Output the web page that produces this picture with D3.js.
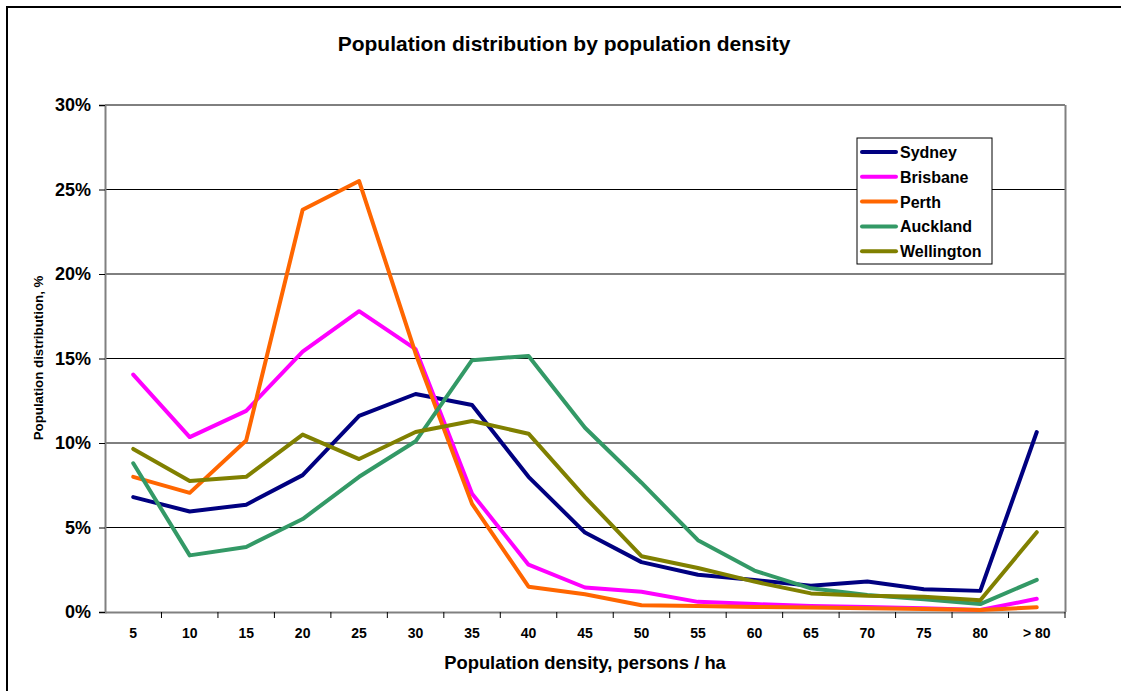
<!DOCTYPE html>
<html>
<head>
<meta charset="utf-8">
<script src="https://cdn.jsdelivr.net/npm/d3@7"></script>
<style>
  body { margin: 0; background: #fff; }
  text { font-family: "Liberation Sans", Arial, sans-serif; font-weight: bold; fill: #000; }
</style>
</head>
<body>
<div id="chart"></div>
<script>
// categories (population density, persons / ha)
var categories = ["5", "10", "15", "20", "25", "30", "35", "40", "45", "50", "55", "60", "65", "70", "75", "80", "> 80"];
var cities = ["Sydney", "Brisbane", "Perth", "Auckland", "Wellington"];
var cityColors = ["#000080", "#ff00ff", "#ff6600", "#339966", "#808000"];

// population distribution, %
var sydney     = [6.8, 5.95, 6.35, 8.1, 11.6, 12.9, 12.25, 8.0, 4.7, 2.95, 2.2, 1.9, 1.55, 1.8, 1.35, 1.25, 10.65];
var brisbane   = [14.05, 10.35, 11.9, 15.4, 17.8, 15.55, 7.0, 2.8, 1.45, 1.2, 0.6, 0.47, 0.35, 0.3, 0.22, 0.12, 0.78];
var perth      = [8.0, 7.05, 10.15, 23.8, 25.5, 15.3, 6.4, 1.5, 1.05, 0.4, 0.36, 0.3, 0.26, 0.22, 0.18, 0.12, 0.28];
var auckland   = [8.8, 3.35, 3.85, 5.5, 8.0, 10.1, 14.9, 15.15, 10.9, 7.65, 4.25, 2.45, 1.4, 1.0, 0.75, 0.47, 1.9];
var wellington = [9.65, 7.75, 8.0, 10.5, 9.05, 10.65, 11.3, 10.55, 6.8, 3.3, 2.6, 1.8, 1.1, 0.96, 0.9, 0.7, 4.72];

var yTicks = [0, 5, 10, 15, 20, 25, 30];

var seriesValues = [sydney, brisbane, perth, auckland, wellington];

var W = 1121, H = 691;
var margin = {top: 105, right: 56, bottom: 79, left: 105};
var width = W - margin.left - margin.right,
    height = H - margin.top - margin.bottom;

var svg = d3.select("#chart").append("svg")
    .attr("width", W)
    .attr("height", H);

// outer frame
svg.append("rect")
    .attr("x", 7).attr("y", 7)
    .attr("width", W + 20).attr("height", H + 20)
    .attr("fill", "none")
    .attr("stroke", "#000")
    .attr("stroke-width", 2);

svg.append("text")
    .attr("x", 564).attr("y", 51)
    .attr("text-anchor", "middle")
    .style("font-size", "21px")
    .text("Population distribution by population density");

var g = svg.append("g")
    .attr("transform", "translate(" + margin.left + "," + margin.top + ")");

var x = d3.scaleBand()
    .domain(categories)
    .range([0, width]);

var y = d3.scaleLinear()
    .domain([0, 30])
    .range([height, 0]);

// gridlines (not snapped, like the original render)
g.selectAll(".grid")
    .data(yTicks.filter(function(d) { return d > 0; }))
    .enter().append("line")
    .attr("class", "grid")
    .attr("x1", 0).attr("x2", width)
    .attr("y1", function(d) { return y(d); })
    .attr("y2", function(d) { return y(d); })
    .attr("stroke", "#000")
    .attr("stroke-width", 1);

// plot area border (right side)
g.append("line")
    .attr("x1", width + 0.5).attr("x2", width + 0.5)
    .attr("y1", 0).attr("y2", height)
    .attr("stroke", "#808080")
    .attr("stroke-width", 2);

// y axis
var yAxis = g.append("g")
    .call(d3.axisLeft(y)
        .tickValues(yTicks)
        .tickSize(6)
        .tickFormat(function(d) { return d + "%"; }));
yAxis.select(".domain").attr("stroke", "#808080").attr("stroke-width", 2);
yAxis.selectAll(".tick line").attr("stroke", "#000");
yAxis.selectAll(".tick text")
    .attr("x", -14)
    .style("font-size", "18px")
    .style("font-family", "Liberation Sans, Arial, sans-serif")
    .style("font-weight", "bold");

// x axis with ticks between categories
var xAxis = g.append("g")
    .attr("transform", "translate(0," + height + ")")
    .call(d3.axisBottom(x).tickSize(0).tickPadding(16));
xAxis.select(".domain").attr("stroke", "#808080").attr("stroke-width", 2);
xAxis.selectAll(".tick text")
    .style("font-size", "14px")
    .style("font-family", "Liberation Sans, Arial, sans-serif")
    .style("font-weight", "bold");

g.selectAll(".xtick")
    .data(categories)
    .enter().append("line")
    .attr("class", "xtick")
    .attr("x1", function(d) { return x(d) + x.bandwidth(); })
    .attr("x2", function(d) { return x(d) + x.bandwidth(); })
    .attr("y1", height).attr("y2", height + 6)
    .attr("stroke", "#000");

// axis titles
svg.append("text")
    .attr("x", 585).attr("y", 669)
    .attr("text-anchor", "middle")
    .style("font-size", "18.4px")
    .text("Population density, persons / ha");

svg.append("text")
    .attr("transform", "translate(43,358) rotate(-90)")
    .attr("text-anchor", "middle")
    .style("font-size", "13.3px")
    .text("Population distribution, %");

// lines
var line = d3.line()
    .x(function(d, i) { return x(categories[i]) + x.bandwidth() / 2; })
    .y(function(d) { return y(d); });

g.selectAll(".series")
    .data(seriesValues)
    .enter().append("path")
    .attr("class", "series")
    .attr("d", line)
    .attr("fill", "none")
    .attr("stroke", function(d, i) { return cityColors[i]; })
    .attr("stroke-width", 4)
    .attr("stroke-linejoin", "round")
    .attr("stroke-linecap", "round");

// legend
var legend = svg.append("g")
    .attr("transform", "translate(857,138)");

legend.append("rect")
    .attr("x", 0).attr("y", 0)
    .attr("width", 135).attr("height", 126)
    .attr("fill", "#fff")
    .attr("stroke", "#000")
    .attr("stroke-width", 1);

var item = legend.selectAll(".item")
    .data(cities)
    .enter().append("g")
    .attr("class", "item")
    .attr("transform", function(d, i) { return "translate(0," + (14 + i * 24.8) + ")"; });

item.append("line")
    .attr("x1", 5).attr("x2", 39)
    .attr("y1", 0).attr("y2", 0)
    .attr("stroke", function(d, i) { return cityColors[i]; })
    .attr("stroke-width", 4)
    .attr("stroke-linecap", "round");

item.append("text")
    .attr("x", 43).attr("y", 6)
    .style("font-size", "16px")
    .text(function(d) { return d; });
</script>
</body>
</html>
